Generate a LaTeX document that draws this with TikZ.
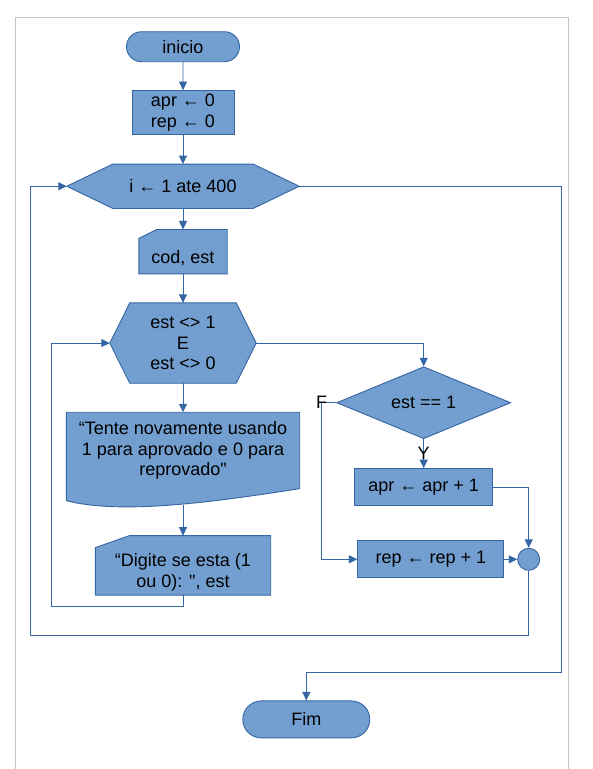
\documentclass[tikz,border=0pt]{standalone}
\usepackage{fontspec}
\setmainfont{Liberation Sans}[Ligatures=TeXOff]
\usetikzlibrary{arrows.meta,positioning,shapes.geometric,shapes.misc,calc,backgrounds}
\definecolor{flowfill}{HTML}{729FCF}
\definecolor{flowline}{HTML}{3465A4}
\definecolor{pageedge}{HTML}{C6C6C6}
\tikzset{
  flowbase/.style={
    draw=flowline,
    fill=flowfill,
    line width=0.9pt,
    align=center,
    inner sep=2pt,
    font=\fontsize{18}{20.3}\selectfont
  },
  termbox/.style={
    flowbase,
    rounded rectangle,
    minimum height=30pt
  },
  procbox/.style={
    flowbase,
    rectangle,
    minimum height=37pt
  },
  testbox/.style={
    flowbase,
    diamond,
    aspect=2.4,
    minimum width=174pt,
    minimum height=72pt
  },
  joinbox/.style={
    draw=flowline,
    fill=flowfill,
    line width=0.9pt,
    circle,
    inner sep=0pt,
    minimum size=22pt
  },
  % text only; the outline is drawn behind it
  plainbox/.style={
    rectangle,
    align=center,
    inner sep=2pt,
    font=\fontsize{18}{20.3}\selectfont
  },
  edgefill/.style={
    draw=flowline,
    fill=flowfill,
    line width=0.9pt
  },
  tag/.style={
    inner sep=0pt,
    font=\fontsize{18}{20.3}\selectfont
  },
  arrow/.style={
    -{Triangle[length=8.5pt,width=8pt]},
    line width=0.9pt,
    draw=flowline
  }
}

\begin{document}
\begin{tikzpicture}[x=1pt, y=-1pt, node distance=29pt]
\useasboundingbox (0,0) rectangle (593,769);
\draw[pageedge, line width=1pt] (15.7,769) |- (568.3,17.3) -- (568.3,769);

% main column
\node[termbox, minimum width=117pt] (start) at (183,46.7) {inicio};
\node[procbox, minimum width=102pt, minimum height=44pt, below=28pt of start] (init) {apr ← 0\\rep ← 0};
\node[plainbox, minimum width=232pt, minimum height=44pt, below=of init] (outer) {i ← 1 ate 400};
\node[plainbox, minimum width=88pt, minimum height=44pt, below=21pt of outer] (read) {\rule{0pt}{25pt}cod, est};
\node[plainbox, minimum width=146pt, minimum height=80pt, below=29pt of read] (check) {est <> 1\\E\\est <> 0};
\node[plainbox, minimum width=233pt, minimum height=76pt, below=29pt of check] (msg)
  {“Tente novamente usando\\1 para aprovado e 0 para\\reprovado"};
\coordinate (msgfoot) at ($(msg.south)+(0,16)$);
\node[plainbox, minimum width=175pt, minimum height=59pt, below=47pt of msg] (ask)
  {\rule{0pt}{27pt}“Digite se esta (1\\ou 0): ", est};

% right branch
\node[testbox] (cond) at (423.7,402.7) {est == 1};
\node[procbox, minimum width=138pt, below=29pt of cond] (addapr) {apr ← apr + 1};
\node[procbox, minimum width=146pt] (addrep) at (430.8,559.3) {rep ← rep + 1};
\node[joinbox, right=13pt of addrep] (join) {};

% end
\node[termbox, minimum width=131pt, minimum height=37pt] (stop) at (306.3,719.4) {Fim};

% outlines behind the text
\begin{pgfonlayer}{background}
\filldraw[edgefill] (outer.west) -- ($(outer.north west)+(46,0)$) -- ($(outer.north east)+(-46,0)$)
  -- (outer.east) -- ($(outer.south east)+(-46,0)$) -- ($(outer.south west)+(46,0)$) -- cycle;
\filldraw[edgefill] (check.west) -- ($(check.north west)+(20,0)$) -- ($(check.north east)+(-20,0)$)
  -- (check.east) -- ($(check.south east)+(-20,0)$) -- ($(check.south west)+(20,0)$) -- cycle;
\filldraw[edgefill] (read.south west) -- ($(read.north west)+(0,9)$) -- ($(read.north west)+(18,0)$)
  -- (read.north east) -- (read.south east) -- cycle;
\filldraw[edgefill] (ask.south west) -- ($(ask.north west)+(0,12)$) -- ($(ask.north west)+(34,0)$)
  -- (ask.north east) -- (ask.south east) -- cycle;
\filldraw[edgefill] (msg.north west) -- (msg.north east) -- (msg.south east)
  .. controls ($(msg.south west)+(144,14)$) and ($(msg.south west)+(54,26)$)
  .. ($(msg.south west)+(0,12)$) -- cycle;
\end{pgfonlayer}

% bends
\coordinate (back2) at (51.7,606.7);
\coordinate (back1) at (30,635.7);
\coordinate (exitturn) at (561,672);
\coordinate (fcorner) at (321.7,559.3);

\draw[arrow] (start) -- (init);
\draw[arrow] (init) -- (outer);
\draw[arrow] (outer) -- (read);
\draw[arrow] (read) -- (check);
\draw[arrow] (check) -- (msg);
\draw[arrow] (msgfoot) -- (msgfoot |- ask.north);
\draw[arrow] (ask.south) |- (back2) |- (check.west);
\draw[arrow] (check.east) -| (cond.north);
\draw[arrow] (cond.south) -- node[tag, pos=0.5] {Y} (addapr.north);
\draw[arrow] (cond.west) -| node[tag, pos=0.5] {F} (fcorner) -- (addrep.west);
\draw[arrow] (addapr.east) -| (join.north);
\draw[arrow] (addrep.east) -- (join.west);
\draw[arrow] (join.south) |- (back1) |- (outer.west);
\draw[arrow] (outer.east) -| (exitturn) -| (stop.north);
\end{tikzpicture}
\end{document}
